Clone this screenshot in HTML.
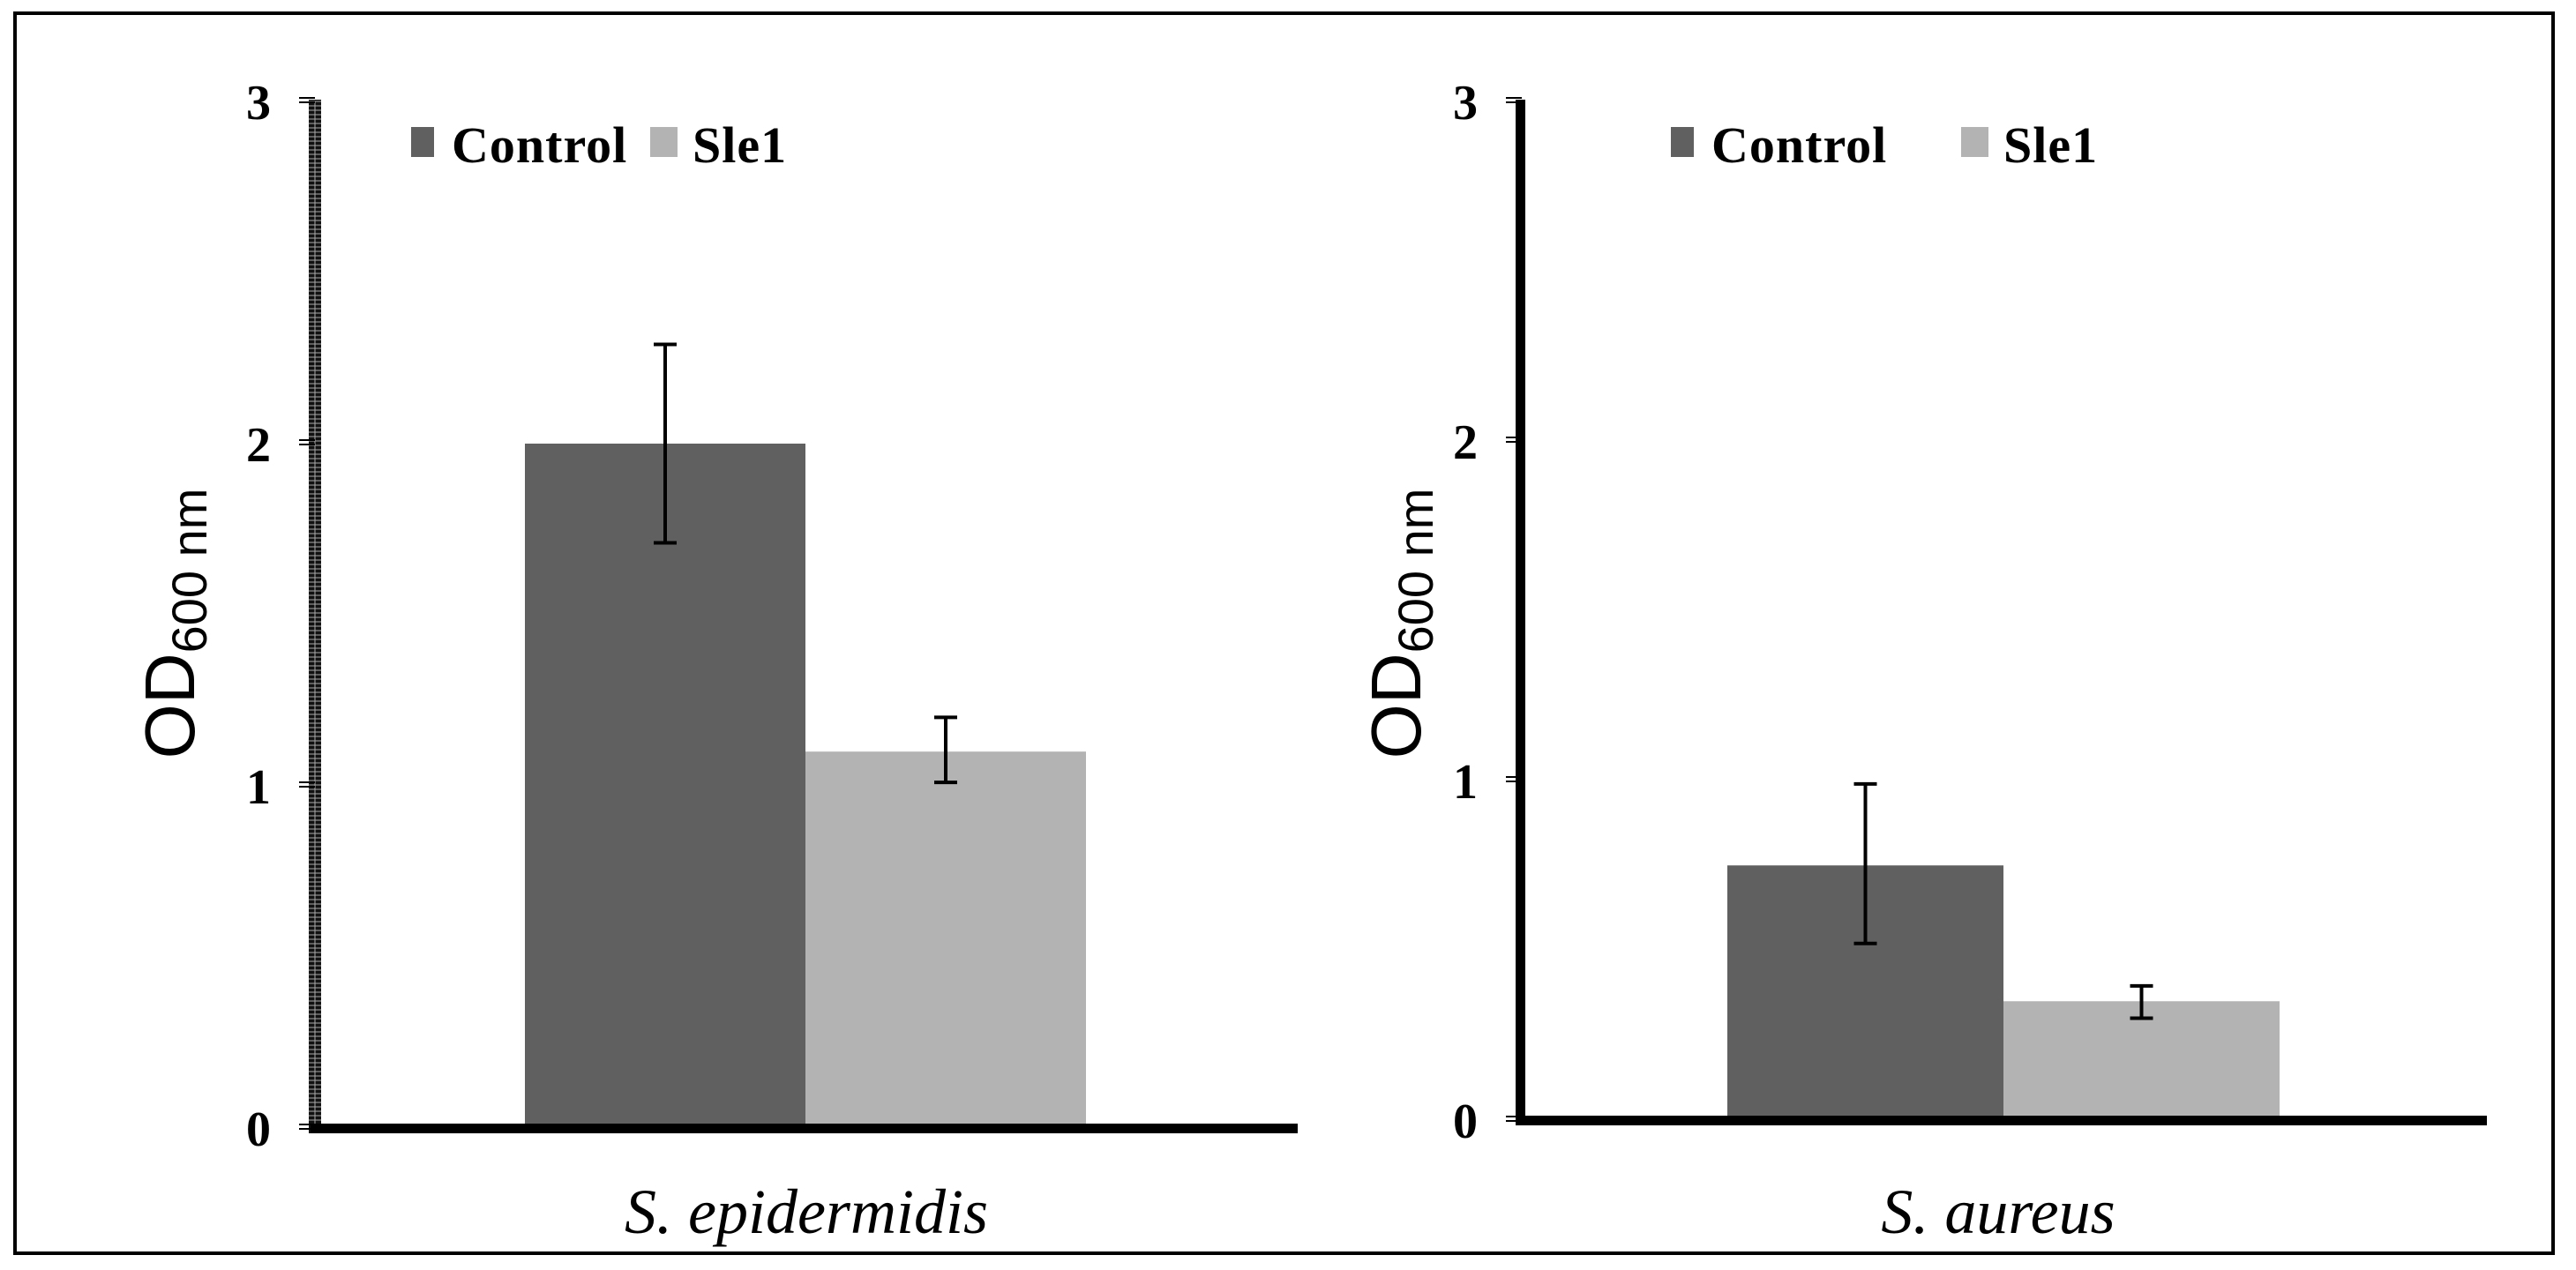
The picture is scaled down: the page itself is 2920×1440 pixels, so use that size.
<!DOCTYPE html>
<html><head><meta charset="utf-8"><style>
html,body{margin:0;padding:0;background:#fff;}
svg{display:block;}
.tk{font-family:"Liberation Serif",serif;font-weight:bold;font-size:56px;fill:#000;}
.lg{font-family:"Liberation Serif",serif;font-weight:bold;font-size:58px;fill:#000;letter-spacing:1px;}
.xl{font-family:"Liberation Serif",serif;font-style:italic;font-size:72px;fill:#000;}
.yt{font-family:"Liberation Sans",sans-serif;font-size:80px;fill:#000;}
</style></head><body>
<svg id="chart" width="2920" height="1440" viewBox="0 0 2920 1440" xmlns="http://www.w3.org/2000/svg">
<rect x="17" y="15" width="2877" height="1406" fill="none" stroke="#000" stroke-width="4"/>
<g id="panels"></g>
</svg>
<script>
const categories = ["S. epidermidis", "S. aureus"];
const seriesNames = ["Control", "Sle1"];
const controlValues = [2.0, 0.75];
const sle1Values = [1.10, 0.35];
const controlErrHigh = [2.29, 0.99];
const controlErrLow = [1.71, 0.52];
const sle1ErrHigh = [1.20, 0.395];
const sle1ErrLow = [1.01, 0.30];
const tickLabels = ["0", "1", "2", "3"];
const yMax = 3;

const NS = "http://www.w3.org/2000/svg";
const root = document.getElementById('panels');
function mk(tag, attrs, parent){
  const e = document.createElementNS(NS, tag);
  for (const k in attrs) e.setAttribute(k, attrs[k]);
  (parent||root).appendChild(e);
  return e;
}
const layouts = [
  {axisX:357, top:115, zero:1279, xEnd:1471, bar0:595, bw:318, legX:466, leg2X:737, titleX:194, labelX:914, labelY:1398, dotted:true},
  {axisX:1725, top:115, zero:1270, xEnd:2819, bar0:1958, bw:313, legX:1894, leg2X:2223, titleX:1584, labelX:2265, labelY:1398, dotted:false}
];
const colors = ["#606060", "#b3b3b3"];
layouts.forEach((L, i) => {
  const g = mk('g', {});
  
  
  const y = v => L.zero - (v / yMax) * (L.zero - L.top);
  const vals = [controlValues[i], sle1Values[i]];
  const hi = [controlErrHigh[i], sle1ErrHigh[i]];
  const lo = [controlErrLow[i], sle1ErrLow[i]];
  vals.forEach((v, s) => {
    const x = L.bar0 + s * L.bw;
    const r = mk('rect', {x:x, y:y(v), width:L.bw, height:L.zero - y(v), fill:colors[s]}, g);
    
    
    const cx = x + L.bw/2;
    const eb = mk('g', {stroke:'#000', 'stroke-width':4}, g);
    
    
    mk('line', {x1:cx, x2:cx, y1:y(hi[s]), y2:y(lo[s])}, eb);
    mk('line', {x1:cx-13, x2:cx+13, y1:y(hi[s]), y2:y(hi[s])}, eb);
    mk('line', {x1:cx-13, x2:cx+13, y1:y(lo[s]), y2:y(lo[s])}, eb);
  });
  const ax = mk('rect', {x:L.axisX-7, y:L.top-2, width:L.dotted?14:11, height:L.zero-L.top+8, fill:L.dotted?'#111':'#000'}, g);
  
  
  if (L.dotted){
    for (let yy = L.top; yy < L.zero; yy += 5) mk('line', {x1:L.axisX-7, x2:L.axisX+7, y1:yy, y2:yy, stroke:'#aaa', 'stroke-width':1}, g);
    mk('line', {x1:L.axisX, x2:L.axisX, y1:L.top, y2:L.zero, stroke:'#aaa', 'stroke-width':1}, g);
  }
  tickLabels.forEach((t, k) => {
    const ty = y(+t);
    mk('line', {x1:L.axisX-18, x2:L.axisX, y1:ty-4, y2:ty-4, stroke:'#000', 'stroke-width':2}, g);
    mk('line', {x1:L.axisX-18, x2:L.axisX, y1:ty+1, y2:ty+1, stroke:'#000', 'stroke-width':2}, g);
    const tl = mk('text', {x:L.axisX-50, y:ty+20, 'text-anchor':'end', class:'tk'}, g);
    tl.textContent = t;
    
    
  });
  const xa = mk('rect', {x:L.axisX-5, y:L.zero-5, width:L.xEnd-L.axisX+5, height:11, fill:'#000'}, g);
  
  
  [L.legX, L.leg2X].forEach((lx, s) => {
    const lg = mk('g', {}, g);
    
    
    mk('rect', {x:lx, y:144, width:s?31:26, height:34, fill:colors[s]}, lg);
    const lt = mk('text', {x:lx + (s?48:46), y:184, class:'lg'}, lg);
    lt.textContent = seriesNames[s];
  });
  const yt = mk('text', {x:0, y:0, class:'yt', 'text-anchor':'middle', transform:'translate(' + (L.titleX+26) + ',707) rotate(-90)'}, g);
  
  
  const t1 = mk('tspan', {}, yt); t1.textContent = 'OD';
  const t2 = mk('tspan', {'font-size':'56', dy:'14'}, yt); t2.textContent = '600 nm';
  const xl = mk('text', {x:L.labelX, y:L.labelY, class:'xl', 'text-anchor':'middle'}, g);
  xl.textContent = categories[i];
  
  
});
</script>
</body></html>
